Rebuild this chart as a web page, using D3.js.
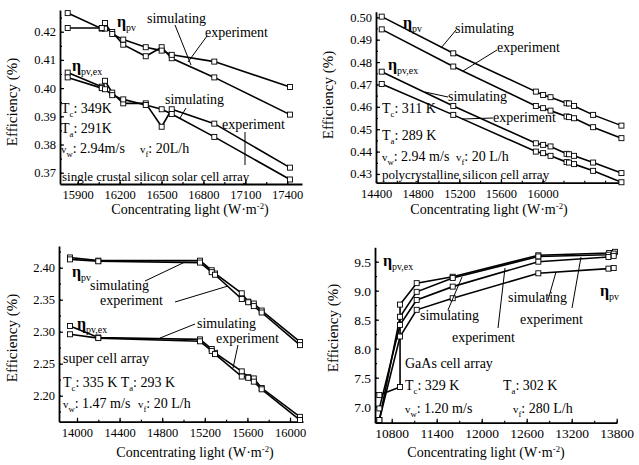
<!DOCTYPE html>
<html>
<head>
<meta charset="utf-8">
<script src="https://cdn.jsdelivr.net/npm/d3@7"></script>
</head>
<body style="margin:0">
<div class="chart"></div>
<script>
const svgWidth = 639
const svgHeight = 465
const serifFont = '"Liberation Serif", "Times New Roman", Tinos, "DejaVu Serif", serif'

// ===================== DATA =====================
// single crystal silicon
const crystX = [15828, 16072, 16095, 16147, 16226, 16387, 16501, 16573, 16878, 17420]
const crystPvA = [0.4266, 0.4211, 0.4211, 0.4199, 0.4154, 0.4113, 0.4145, 0.4106, 0.4038, 0.3906]
const crystPvB = [0.4213, 0.4213, 0.4231, 0.4192, 0.4172, 0.4145, 0.4133, 0.4118, 0.4094, 0.4004]
const crystExA = [0.4055, 0.4005, 0.4026, 0.3984, 0.3946, 0.3946, 0.3863, 0.3925, 0.3874, 0.3718]
const crystExB = [0.4038, 0.4000, 0.3996, 0.3975, 0.3960, 0.3940, 0.3925, 0.3908, 0.3827, 0.3676]
const crystXTicks = [15900, 16200, 16500, 16800, 17100, 17400]
const crystYTicks = [0.37, 0.38, 0.39, 0.40, 0.41, 0.42]

// polycrystalline silicon
const polyX = [14455, 15142, 15935, 16005, 16076, 16230, 16254, 16302, 16485, 16757]
const polyPvSim = [0.5003, 0.4839, 0.4668, 0.4653, 0.4643, 0.4616, 0.4615, 0.4604, 0.4564, 0.4516]
const polyPvExp = [0.4946, 0.4780, 0.4604, 0.4594, 0.4583, 0.4557, 0.4554, 0.4549, 0.4509, 0.4460]
const polyExSim = [0.4757, 0.4604, 0.4437, 0.4430, 0.4423, 0.4390, 0.4388, 0.4381, 0.4351, 0.4304]
const polyExExp = [0.4702, 0.4564, 0.4400, 0.4393, 0.4381, 0.4353, 0.4351, 0.4344, 0.4314, 0.4263]
const polyXTicks = [14400, 14800, 15200, 15600, 16000]
const polyYTicks = [0.43, 0.44, 0.45, 0.46, 0.47, 0.48, 0.49, 0.50]

// super cell
const superX = [13934, 14200, 15155, 15265, 15296, 15547, 15608, 15660, 15734, 16094]
const superPvSim = [2.416, 2.411, 2.411, 2.396, 2.391, 2.360, 2.347, 2.344, 2.333, 2.284]
const superPvExp = [2.413, 2.410, 2.408, 2.393, 2.389, 2.351, 2.346, 2.340, 2.330, 2.279]
const superExSim = [2.309, 2.291, 2.288, 2.273, 2.267, 2.238, 2.229, 2.227, 2.212, 2.167]
const superExExp = [2.296, 2.290, 2.285, 2.270, 2.265, 2.230, 2.228, 2.222, 2.210, 2.162]
const superXTicks = [14000, 14400, 14800, 15200, 15600, 16000]
const superYTicks = [2.20, 2.25, 2.30, 2.35, 2.40]

// GaAs
const gaasXA = [10635, 10911, 10911, 11133, 11613, 12755, 13700, 13777]
const gaasA = [7.20, 7.34, 8.76, 9.13, 9.24, 9.61, 9.65, 9.67]
const gaasX = [10635, 10911, 11133, 11613, 12755, 13690, 13760]
const gaasB = [6.77, 8.55, 8.98, 9.22, 9.59, 9.62, 9.64]
const gaasC = [6.97, 8.41, 8.84, 9.07, 9.50, 9.58, 9.60]
const gaasD = [6.77, 8.21, 8.67, 8.87, 9.30, 9.38, 9.39]
const gaasXTicks = [10800, 11400, 12000, 12600, 13200, 13800]
const gaasYTicks = [7.0, 7.5, 8.0, 8.5, 9.0, 9.5]

const zip = (xs, ys) => xs.map((x, i) => [x, ys[i]])

// ===================== PANELS =====================
const panels = [
  {
    xDom: [15773, 17506], xRange: [60, 302],
    yDom: [0.3660, 0.4277], yRange: [184, 10],
    xTicks: crystXTicks, xMinor: 150, yTicks: crystYTicks, yMinor: 0.005, yFmt: ".2f", tickSize: 12.5,
    series: [zip(crystX, crystPvA), zip(crystX, crystPvB), zip(crystX, crystExA), zip(crystX, crystExB)],
    yTitle: [17, 102], xTitle: [190, 214],
    labels: [
      [117, 27, "!{η}_{pv}", 16],
      [147, 23, "simulating", 14],
      [205, 37, "experiment", 14],
      [72, 71, "!{η}_{pv,ex}", 16],
      [165, 104, "simulating", 14],
      [222, 129, "experiment", 14],
      [61, 113, "T_{c}: 349K", 14],
      [61, 133, "T_{a}: 291K", 14],
      [61, 153, "~{v}_{w}: 2.94m/s", 14],
      [140, 153, "~{v}_{f}: 20L/h", 14],
      [62, 181, "single crustal silicon solar cell array", 13]
    ],
    leaders: [[175, 25, 191, 65], [207, 36, 188, 62], [186, 108, 180, 118], [245, 132, 245, 165]]
  },
  {
    xDom: [14400, 16772], xRange: [376, 623],
    yDom: [0.4261, 0.5025], yRange: [182.7, 11.7],
    xTicks: polyXTicks, xMinor: 200, yTicks: polyYTicks, yMinor: 0.005, yFmt: ".2f", tickSize: 12.5,
    series: [zip(polyX, polyPvSim), zip(polyX, polyPvExp), zip(polyX, polyExSim), zip(polyX, polyExExp)],
    yTitle: [333, 95], xTitle: [489, 214],
    labels: [
      [403, 28, "!{η}_{pv}", 16],
      [455, 33, "simulating", 14],
      [497, 52, "experiment", 14],
      [388, 70, "!{η}_{pv,ex}", 16],
      [448, 101, "simulating", 14],
      [493, 122, "experiment", 14],
      [382, 113, "T_{c}: 311 K", 14],
      [382, 140, "T_{a}: 289 K", 14],
      [382, 161, "~{v}_{w}: 2.94 m/s", 14],
      [456, 161, "~{v}_{f}: 20 L/h", 14],
      [382, 179, "polycrystalline silicon cell array", 13]
    ],
    leaders: [[456, 30, 441, 48], [497, 50, 463, 71], [448, 97, 425, 92], [493, 118, 462, 119]]
  },
  {
    xDom: [13831, 16122], xRange: [59, 303],
    yDom: [2.1594, 2.4339], yRange: [421.7, 246],
    xTicks: superXTicks, xMinor: 200, yTicks: superYTicks, yMinor: 0.025, yFmt: ".2f", tickSize: 12.5,
    series: [zip(superX, superPvSim), zip(superX, superPvExp), zip(superX, superExSim), zip(superX, superExExp)],
    yTitle: [17, 338], xTitle: [195, 457],
    labels: [
      [72, 277, "!{η}_{pv}", 16],
      [90, 290, "simulating", 14],
      [100, 305, "experiment", 14],
      [77, 329, "!{η}_{pv,ex}", 16],
      [197, 328, "simulating", 14],
      [216, 343, "experiment", 14],
      [63, 363, "super cell array", 14],
      [63, 387, "T_{c}: 335 K T_{a}: 293 K", 14],
      [63, 408, "~{v}_{w}: 1.47 m/s", 14],
      [138, 408, "~{v}_{f}: 20 L/h", 14]
    ],
    leaders: [[145, 281, 185, 262], [175, 302, 228, 286], [195, 324, 160, 338], [238, 345, 233, 368]]
  },
  {
    xDom: [10577, 13804], xRange: [375, 617],
    yDom: [6.724, 9.748], yRange: [422.7, 247.3],
    xTicks: gaasXTicks, xMinor: 300, yTicks: gaasYTicks, yMinor: 0.25, yFmt: ".1f", tickSize: 13.5,
    series: [zip(gaasXA, gaasA), zip(gaasX, gaasB), zip(gaasX, gaasC), zip(gaasX, gaasD)],
    yTitle: [338, 328], xTitle: [486, 457],
    labels: [
      [383, 266, "!{η}_{pv,ex}", 16],
      [600, 296, "!{η}_{pv}", 16],
      [420, 320, "simulating", 14],
      [452, 342, "experiment", 14],
      [508, 302, "simulating", 14],
      [520, 324, "experiment", 14],
      [405, 368, "GaAs cell array", 14],
      [405, 390, "T_{c}: 329 K", 14],
      [503, 390, "T_{a}: 302 K", 14],
      [405, 413, "~{v}_{w}: 1.20 m/s", 14],
      [513, 413, "~{v}_{f}: 280 L/h", 14]
    ],
    leaders: [[448, 310, 462, 277], [498, 328, 505, 268], [548, 300, 556, 272], [572, 308, 581, 257]]
  }
]

let svg = d3.select(".chart")
  .append("svg")
  .attr("width", svgWidth)
  .attr("height", svgHeight)
  .style("font-family", serifFont)

// tiny markup: _{sub} ^{sup} !{bold} ~{small}
function richText(g, x, y, str, size) {
  let t = g.append("text").attr("x", x).attr("y", y).attr("font-size", size)
    .attr("fill", "#000").style("font-family", serifFont)
  let re = /([_^!~])\{([^}]*)\}|([^_^!~]+)/g
  let m, shift = 0
  while ((m = re.exec(str)) !== null) {
    let kind = m[1], txt = m[1] ? m[2] : m[3]
    let s = kind === "_" ? 3.5 : kind === "^" ? -5 : 0
    let fs = (kind === "_" || kind === "^") ? size * 0.62 : kind === "~" ? size * 0.78 : size
    t.append("tspan")
      .attr("dy", s - shift)
      .attr("font-size", fs)
      .attr("font-weight", kind === "!" ? "bold" : null)
      .text(txt)
    shift = s
  }
  return t
}

function minorTicks(dom, step) {
  let out = []
  let start = Math.ceil(dom[0] / step - 1e-9)
  for (let i = start; i * step <= dom[1] + 1e-9; i++) out.push(+(i * step).toFixed(4))
  return out
}

panels.forEach(p => {
  let g = svg.append("g")
  let x = d3.scaleLinear().domain(p.xDom).range(p.xRange)
  let y = d3.scaleLinear().domain(p.yDom).range(p.yRange)
  let y0 = p.yRange[0], x0 = p.xRange[0]

  // minor ticks
  g.append("g").attr("transform", `translate(0, ${y0})`)
    .call(d3.axisBottom(x).tickValues(minorTicks(p.xDom, p.xMinor)).tickSize(-2).tickFormat(""))
    .call(a => a.select(".domain").remove())
  g.append("g").attr("transform", `translate(${x0}, 0)`)
    .call(d3.axisLeft(y).tickValues(minorTicks(p.yDom, p.yMinor)).tickSize(-2).tickFormat(""))
    .call(a => a.select(".domain").remove())

  // major axes
  let xAxis = g.append("g").attr("transform", `translate(0, ${y0})`)
    .call(d3.axisBottom(x).tickValues(p.xTicks).tickSize(-4).tickSizeOuter(0).tickPadding(6).tickFormat(d3.format("d")))
  let yAxis = g.append("g").attr("transform", `translate(${x0}, 0)`)
    .call(d3.axisLeft(y).tickValues(p.yTicks).tickSize(-4).tickSizeOuter(0).tickPadding(4).tickFormat(d3.format(p.yFmt)))
  ;[xAxis, yAxis].forEach(a => {
    a.attr("font-size", p.tickSize).attr("font-family", null)
    a.selectAll("text").attr("fill", "#000").style("font-family", serifFont)
    a.select(".domain").attr("stroke-width", 1.8)
  })
  g.selectAll(".tick line").attr("stroke", "#000").attr("stroke-width", 1.2)

  // curves
  let line = d3.line().x(d => x(d[0])).y(d => y(d[1]))
  p.series.forEach(s => {
    g.append("path").datum(s)
      .attr("d", line)
      .attr("fill", "none")
      .attr("stroke", "#000")
      .attr("stroke-width", 1.6)
  })
  p.series.forEach(s => {
    g.selectAll(null).data(s).enter().append("rect")
      .attr("x", d => x(d[0]) - 2.5)
      .attr("y", d => y(d[1]) - 2.5)
      .attr("width", 5)
      .attr("height", 5)
      .attr("fill", "#fff")
      .attr("stroke", "#000")
      .attr("stroke-width", 0.9)
  })

  // leader lines
  p.leaders.forEach(l => {
    g.append("line").attr("x1", l[0]).attr("y1", l[1]).attr("x2", l[2]).attr("y2", l[3])
      .attr("stroke", "#000").attr("stroke-width", 1)
  })

  // annotations
  p.labels.forEach(l => richText(g, l[0], l[1], l[2], l[3]))

  // axis titles
  g.append("text")
    .attr("transform", `translate(${p.yTitle[0]}, ${p.yTitle[1]}) rotate(-90)`)
    .attr("text-anchor", "middle")
    .attr("font-size", 15)
    .style("font-family", serifFont)
    .text("Efficiency (%)")
  richText(g, 0, p.xTitle[1], "Concentrating light (W·m^{-2})", 14)
    .attr("x", p.xTitle[0]).attr("text-anchor", "middle")
})

svg.selectAll("text").style("font-family", serifFont)
</script>
</body>
</html>
